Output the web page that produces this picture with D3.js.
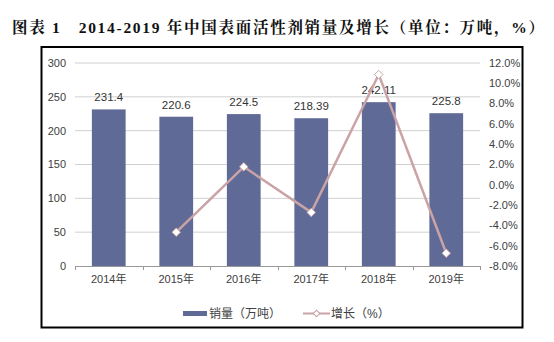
<!DOCTYPE html>
<html><head><meta charset="utf-8">
<script src="https://cdn.jsdelivr.net/npm/d3@7/dist/d3.min.js"></script>
<style>body{margin:0;background:#fff;} svg{display:block;}</style>
</head><body>
<svg id="c" width="554" height="342"></svg>
<script>
const categories = ["2014年","2015年","2016年","2017年","2018年","2019年"];
const sales = [231.4, 220.6, 224.5, 218.39, 242.11, 225.8];
const salesLabels = ["231.4","220.6","224.5","218.39","242.11","225.8"];
const growth = [null, -4.67, 1.77, -2.72, 10.86, -6.74];
const leftTicks = [0,50,100,150,200,250,300];
const rightTicks = [-8,-6,-4,-2,0,2,4,6,8,10,12];
const titleText = "图表 1　2014-2019 年中国表面活性剂销量及增长（单位：万吨，%）";
const legendLabels = ["销量（万吨）","增长（%）"];

const svg = d3.select("#c");
const L = 75, R = 480, T = 63, B = 266;
const font = "Arial, 'Liberation Sans', 'Noto Sans CJK SC', sans-serif";

svg.append("text").attr("x", 12).attr("y", 33)
  .attr("font-family", "'Liberation Serif','Times New Roman','Noto Serif CJK SC','Noto Sans CJK SC',serif")
  .attr("font-weight", "bold").attr("font-size", 15.5).attr("fill", "#111")
  .attr("textLength", 532).attr("lengthAdjust","spacing")
  .text(titleText);

svg.append("rect").attr("x", 41.5).attr("y", 47).attr("width", 481).attr("height", 280.5)
  .attr("fill", "none").attr("stroke", "#000").attr("stroke-width", 2);

const x = d3.scaleBand().domain(categories).range([L, R]).paddingInner(0.5).paddingOuter(0.25);
const xb = d3.scaleBand().domain(categories).range([L, R]);
const y = d3.scaleLinear().domain([0, 300]).range([B, T]);
const y2 = d3.scaleLinear().domain([-8, 12]).range([B, T]);

// gridlines
svg.append("g").selectAll("line").data(leftTicks.filter(d => d > 0)).join("line")
  .attr("x1", L).attr("x2", R).attr("y1", d => y(d)).attr("y2", d => y(d))
  .attr("stroke", "#d0d0d0").attr("stroke-width", 1);

// left axis labels
svg.append("g").selectAll("text").data(leftTicks).join("text")
  .attr("x", 66).attr("y", d => y(d)).attr("dy", "0.35em").attr("text-anchor", "end")
  .attr("font-family", font).attr("font-size", 11).attr("fill", "#404040").text(d => d);

// right axis labels
svg.append("g").selectAll("text").data(rightTicks).join("text")
  .attr("x", 489).attr("y", d => y2(d)).attr("dy", "0.35em").attr("text-anchor", "start")
  .attr("font-family", font).attr("font-size", 11).attr("fill", "#404040").text(d => d.toFixed(1) + "%");

// bars
svg.append("g").selectAll("rect").data(sales).join("rect")
  .attr("x", (d, i) => x(categories[i])).attr("width", x.bandwidth())
  .attr("y", d => y(d)).attr("height", d => B - y(d)).attr("fill", "#5f6a96");

// bar labels
svg.append("g").selectAll("text").data(sales).join("text")
  .attr("x", (d, i) => x(categories[i]) + x.bandwidth() / 2).attr("y", d => y(d) - 8)
  .attr("text-anchor", "middle").attr("font-family", font).attr("font-size", 11.5).attr("fill", "#333")
  .text((d, i) => salesLabels[i]);

// x axis line + ticks
const ax = svg.append("g");
ax.append("line").attr("x1", L).attr("x2", R).attr("y1", B + 0.5).attr("y2", B + 0.5).attr("stroke", "#999");
ax.selectAll("line.t").data(categories.concat(["end"])).join("line").attr("class", "t")
  .attr("x1", (d, i) => Math.round(L + i * xb.step()) + 0.5).attr("x2", (d, i) => Math.round(L + i * xb.step()) + 0.5)
  .attr("y1", B).attr("y2", B + 4).attr("stroke", "#999");
ax.selectAll("text").data(categories).join("text")
  .attr("x", d => xb(d) + xb.bandwidth() / 2).attr("y", 283).attr("text-anchor", "middle")
  .attr("font-family", font).attr("font-size", 11).attr("fill", "#404040").text(d => d);

// line
const pts = growth.map((g, i) => ({ g, c: categories[i] })).filter(d => d.g !== null);
const line = d3.line().x(d => xb(d.c) + xb.bandwidth() / 2).y(d => y2(d.g));
svg.append("path").datum(pts).attr("d", line).attr("fill", "none")
  .attr("stroke", "#c9a3a5").attr("stroke-width", 2.5);
const diamond = d3.symbol().type(d3.symbolDiamond2).size(60);
svg.append("g").selectAll("path").data(pts).join("path")
  .attr("transform", d => `translate(${xb(d.c) + xb.bandwidth() / 2},${y2(d.g)}) rotate(45) scale(0.9)`)
  .attr("d", d3.symbol().type(d3.symbolSquare).size(45)())
  .attr("fill", "#fff").attr("stroke", "#c9a3a5").attr("stroke-width", 1);

// legend
const lg = svg.append("g");
lg.append("rect").attr("x", 183).attr("y", 311).attr("width", 24).attr("height", 5).attr("fill", "#5f6a96");
lg.append("text").attr("x", 209).attr("y", 318).attr("font-family", font).attr("font-size", 12)
  .attr("fill", "#404040").text(legendLabels[0]);
lg.append("line").attr("x1", 303).attr("x2", 330).attr("y1", 313.5).attr("y2", 313.5)
  .attr("stroke", "#c9a3a5").attr("stroke-width", 2);
lg.append("path").attr("transform", "translate(316.5,313.5) rotate(45)")
  .attr("d", d3.symbol().type(d3.symbolSquare).size(22)())
  .attr("fill", "#fff").attr("stroke", "#c9a3a5").attr("stroke-width", 1);
lg.append("text").attr("x", 331).attr("y", 318).attr("font-family", font).attr("font-size", 12)
  .attr("fill", "#404040").text(legendLabels[1]);
</script>
</body></html>
